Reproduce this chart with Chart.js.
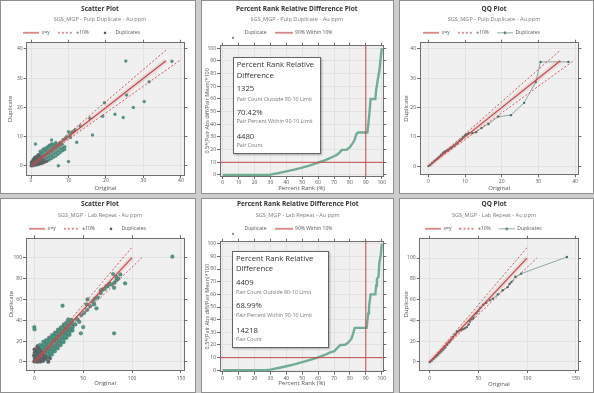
<!DOCTYPE html>
<html>
<head>
<meta charset="utf-8">
<title>Duplicate QAQC plots</title>
<script src="https://cdn.jsdelivr.net/npm/chart.js@4.4.1/dist/chart.umd.min.js"></script>
<style>
html, body { margin: 0; padding: 0; }
body { width: 594px; height: 393px; position: relative; overflow: hidden; background: #cdcdcd; font-family: "Open Sans", sans-serif; }
.panel { position: absolute; box-sizing: border-box; background: #fff; border: 1px solid #8f8f8f; }
.panel canvas { position: absolute; left: 0; top: 0; }
.stats { position: absolute; box-sizing: border-box; background: #fff; border: 1px solid #646464; box-shadow: 1px 1px 2px rgba(0,0,0,0.3); }
.stats div { position: absolute; white-space: nowrap; }
.stats .big { font-size: 7.7px; line-height: 10px; color: #333; }
.stats .small { font-size: 5.3px; line-height: 7px; color: #777; }
</style>
</head>
<body>
<div class="panel" style="left:0;top:0;width:196px;height:194px"><canvas id="c1" width="194" height="192"></canvas></div>
<div class="panel" style="left:201px;top:0;width:193px;height:194px"><canvas id="c2" width="191" height="192"></canvas>
  <div class="stats" style="left:31px;top:56px;width:88px;height:97px">
    <div class="big" style="left:2.7px;top:1.3px">Percent Rank Relative</div>
    <div class="big" style="left:2.7px;top:12px">Difference</div>
    <div class="big" style="left:2.7px;top:25.3px">1325</div>
    <div class="small" style="left:2.7px;top:37.5px">Pair Count Outside 90-10 Limit</div>
    <div class="big" style="left:2.7px;top:49.3px">70.42%</div>
    <div class="small" style="left:2.7px;top:60.2px">Pair Percent Within 90-10 Limit</div>
    <div class="big" style="left:2.7px;top:73px">4480</div>
    <div class="small" style="left:2.7px;top:83.5px">Pair Count</div>
  </div>
</div>
<div class="panel" style="left:399px;top:0;width:195px;height:194px"><canvas id="c3" width="193" height="192"></canvas></div>
<div class="panel" style="left:0;top:198px;width:196px;height:195px"><canvas id="c4" width="194" height="193"></canvas></div>
<div class="panel" style="left:201px;top:198px;width:193px;height:195px"><canvas id="c5" width="191" height="193"></canvas>
  <div class="stats" style="left:30px;top:52px;width:97px;height:97px">
    <div class="big" style="left:3px;top:0.7px">Percent Rank Relative</div>
    <div class="big" style="left:3px;top:10.7px">Difference</div>
    <div class="big" style="left:3px;top:25px">4409</div>
    <div class="small" style="left:3px;top:37.2px">Pair Count Outside 90-10 Limit</div>
    <div class="big" style="left:3px;top:48.3px">68.99%</div>
    <div class="small" style="left:3px;top:59.8px">Pair Percent Within 90-10 Limit</div>
    <div class="big" style="left:3px;top:73.3px">14218</div>
    <div class="small" style="left:3px;top:83.8px">Pair Count</div>
  </div>
</div>
<div class="panel" style="left:399px;top:198px;width:195px;height:195px"><canvas id="c6" width="193" height="193"></canvas></div>

<script>
// ---------- data ----------
const pulpSubtitle = 'SGS_MGP - Pulp Duplicate - Au ppm';
const labSubtitle = 'SGS_MGP - Lab Repeat - Au ppm';

// x=y and +/-10% reference lines (end points)
const pulpEqual = [[0, 0], [36, 36]];
const pulpUpper = [[0, 0], [36, 39.6]];
const pulpLower = [[0, 0], [39.6, 36]];
const labEqual = [[0, 0], [100, 100]];
const labUpper = [[0, 0], [100, 110]];
const labLower = [[0, 0], [110, 100]];

// original / duplicate pairs
const pulpPairs = [
  [0.05,0.05],[0.2,0.4],[0.1,0.9],[0.15,1.4],[0.4,0.1],[0.5,0.7],[0.45,1.25],[0.55,1.8],[0.6,2.3],
  [0.9,0.2],[1.0,0.85],[0.95,1.6],[1.05,2.3],[1.0,3.0],
  [1.4,0.35],[1.55,1.05],[1.5,1.8],[1.45,2.6],[1.6,3.4],
  [2.0,0.5],[2.05,1.3],[1.95,2.2],[2.1,3.1],[2.0,3.9],
  [2.5,0.75],[2.45,1.6],[2.55,2.5],[2.5,3.4],[2.6,4.3],[2.45,5.0],
  [3.0,0.9],[3.05,1.8],[2.95,2.8],[3.1,3.8],[3.0,4.8],[3.15,5.6],
  [3.6,1.25],[3.55,2.2],[3.65,3.2],[3.6,4.2],[3.7,5.2],[3.55,6.0],
  [4.2,1.6],[4.25,2.7],[4.15,3.7],[4.3,4.7],[4.2,5.7],[4.25,6.5],
  [4.8,2.0],[4.85,3.1],[4.75,4.2],[4.9,5.3],[4.8,6.3],[4.85,7.1],
  [5.4,2.5],[5.45,3.6],[5.35,4.7],[5.5,5.8],[5.4,6.8],[5.5,7.6],
  [6.0,3.0],[6.05,4.2],[5.95,5.3],[6.1,6.4],[6.0,7.4],
  [6.6,3.4],[6.65,4.6],[6.55,5.8],[6.7,7.0],[6.6,8.0],
  [7.2,4.0],[7.25,5.2],[7.15,6.4],[7.3,7.5],
  [7.8,4.6],[7.85,5.8],[7.75,7.0],[7.9,8.1],
  [8.4,5.2],[8.45,6.2],[8.35,7.4],
  [9.0,5.6],[9.05,6.6],
  [9.5,10.0],[10.0,11.7],[10.4,10.6],[10.8,11.4],[9.2,9.3],[8.6,9.0],[11.3,11.9],[11.8,12.4],[10.5,9.7],
  [13.1,13.7],[12.2,8.1],[10.0,1.5],[7.3,0.1],[1.2,7.5],[6.2,6.9],[5.5,8.9],
  [16.4,10.6],[15.7,16.3],[19.1,17.0],[19.6,21.6],[22.4,17.7],[24.6,16.6],[27.3,20.0],
  [30.2,22.0],[25.5,24.3],[31.5,28.8],[25.3,35.9],[37.6,35.8]
];

const labPairs = [
  [0,0.5],[0.5,3.2],[-0.3,6.1],[0.4,9.0],[0.2,12.0],
  [3,0.2],[3.2,3.1],[2.8,6.2],[3.1,9.1],[2.9,12.2],[3.2,15.1],
  [6,0.4],[6.2,3.2],[5.8,6.5],[6.1,9.8],[6.0,13.1],[5.9,16.4],
  [9,1.0],[9.2,4.1],[8.8,7.0],[9.1,10.2],[9.0,13.1],[8.9,16.2],[9.2,19.4],
  [12,3.1],[12.2,6.0],[11.8,9.1],[12.1,12.0],[12.0,15.2],[11.9,18.1],[12.2,21.0],
  [15,5.2],[15.2,8.1],[14.8,11.0],[15.1,14.2],[15.0,17.1],[14.9,20.2],[15.2,23.4],
  [18,7.1],[18.2,10.2],[17.8,13.0],[18.1,16.1],[18.0,19.2],[17.9,22.1],[18.2,25.8],
  [21,10.2],[21.2,13.1],[20.8,16.0],[21.1,19.2],[21.0,22.1],[20.9,25.2],[21.2,28.1],
  [24,13.1],[24.2,16.2],[23.8,19.0],[24.1,22.1],[24.0,25.2],[23.9,28.0],[24.2,31.0],
  [27,16.2],[27.2,19.1],[26.8,22.0],[27.1,25.1],[27.0,28.2],[26.9,31.1],[27.2,33.2],
  [30,19.1],[30.2,22.2],[29.8,25.0],[30.1,28.1],[30.0,31.0],[29.9,34.1],[30.2,36.0],
  [33,23.2],[33.2,26.1],[32.8,29.0],[33.1,32.2],[33.0,35.1],[32.9,38.0],
  [36,26.1],[36.2,29.2],[35.8,32.0],[36.1,35.1],[36.0,38.2],
  [39,30.2],[39.2,33.1],[38.8,36.0],[39.1,39.2],
  [1.6,1.8],[4.5,4.6],[7.4,8.1],[10.6,11.4],[13.4,13.6],[16.5,18.7],[19.6,20.7],[22.6,23.6],
  [25.4,26.6],[28.6,29.7],[31.5,30.6],[34.6,33.7],[37.5,34.4],[1.4,7.6],[4.6,10.7],[7.6,14.6],
  [10.5,16.7],[13.6,19.8],[16.4,21.7],[19.5,24.6],[22.4,27.5],[25.6,29.7],[28.4,32.6],[31.6,35.3],
  [7.5,2.4],[10.6,5.5],[13.5,7.6],[16.6,9.7],[19.4,12.6],[22.5,14.8],[25.6,17.6],[28.5,20.7],[31.4,24.6],[34.5,27.7],
  [42,36],[44,40.9],[46,38.5],[38.1,40.3],[34.7,40.9],[48,45],[51,47],[54,50],[57,53.5],[60,57.5],
  [62,60.5],[65,62],[68,66],[70,69.5],[72,70],[75,72.5],[77,75],[82,76],[84,78.5],[86,80],[88,84],
  [80.6,84.3],[84,81.5],[63.6,51.4],[61.2,55.3],[53.4,55.3],[54.4,60],[68,68.7],[73.8,72.8],
  [78.9,74.4],[81.6,71.2],[92.9,75.4],[141.2,101],[81.6,27.5],[47.6,27.5],[50,33.5],[28.9,54],
  [0,33.5],[0.2,31.3],[16,3.5],[14.3,0.3],[43.9,40.9]
];

// percent rank vs relative difference curves
const pulpRank = [
  [0,0],[29,0],[30,0.3],[35,1.5],[40,2.8],[45,4.2],[50,5.8],[55,7.6],[60,9.7],[65,12],[70,14.8],
  [72,16],[74,18.5],[75,19.8],[78,19.9],[80,22],[82,25.5],[83,28],[84,32],[85,33.5],[91,33.5],
  [92,45],[92.5,52],[93,60],[96,60],[96.5,67],[97.5,75],[98.5,82],[99.2,90],[100,100]
];
const labRank = [
  [0,0],[27,0],[30,0.5],[35,1.8],[40,3.2],[45,4.7],[50,6.4],[55,8.2],[60,10.3],[65,12.6],[68,14.4],
  [70,15],[72,17.5],[74,20],[77,20.2],[79,22],[81,25],[82,29],[83,33.5],[90.5,33.5],[91.5,45],
  [92,50],[93,60],[96,60],[96.5,67],[97,72],[98,74],[98.5,85],[99.5,92],[100,100]
];
const rankLimit = 90;      // percent rank limit
const diffLimit = 10;      // relative difference limit

// quantile pairs for the QQ plots
const pulpQuantiles = [
  [0,0],[0.5,0.4],[1,1],[1.5,1.6],[2,2.1],[2.5,2.6],[3,3.2],[3.5,3.9],[4,4.6],[4.5,5.0],[5,5.3],
  [5.5,5.7],[6,6.1],[6.5,6.5],[7,7.0],[7.5,7.5],[8,8.0],[8.5,8.6],[9,9.2],[9.5,9.9],[10,10.5],
  [10.5,10.9],[11,11.2],[12,11.3],[13,11.6],[14.5,13.0],[16.4,14.4],[19.1,16.9],[22.5,17.4],
  [26.1,21.6],[29.3,28.7],[30.6,35.6],[38.2,35.6]
];
const labQuantiles = [
  [0,0],[2,1.5],[4,3.2],[6,4.8],[8,6.5],[10,8.3],[12,10],[14,12],[16,14],[18,16.5],[20,19],
  [22,21.5],[24,24],[26,26.5],[28,29],[30,30],[32,30.8],[34,31.5],[36,32.3],[38,33.5],[40,36],
  [41,39.5],[43,41],[45,42.5],[48,47],[50,49],[52,52],[55,55],[58,57],[62,59.5],[65,61],[70,65],
  [75,69],[80,72],[82,75],[84,77],[88,82],[94,85],[141,101]
];

// ---------- styling ----------
const RED = '#c4494b';
const TEAL = '#4f9886';
const CORE = '#5e6767';
const EDGE = 'rgba(50,72,70,0.4)';
const GREEN = '#72ad93';
const QQ_LINE = '#8ea8a2';
const QQ_DOT = '#3f6f68';

Chart.defaults.font.family = '"Open Sans", sans-serif';
Chart.defaults.color = '#555';

const pts = arr => arr.map(p => ({ x: p[0], y: p[1] }));

function marker(w, h, draw) {
  const c = document.createElement('canvas');
  c.width = w; c.height = h;
  draw(c.getContext('2d'), w, h);
  return c;
}
function lineKey(w, dash) {
  return marker(w, 3, (g) => {
    g.strokeStyle = RED; g.lineWidth = 1.2; g.setLineDash(dash);
    g.beginPath(); g.moveTo(0, 1.5); g.lineTo(w, 1.5); g.stroke();
  });
}
const keySolid = lineKey(16, []);
const keyDash = lineKey(16, [2, 2]);
const keyLimit = lineKey(18, []);
const keyDot = marker(6, 6, (g) => {
  g.fillStyle = '#3e5552'; g.beginPath(); g.arc(3, 3, 1.3, 0, Math.PI * 2); g.fill();
});
const keyLineDot = marker(16, 5, (g) => {
  g.strokeStyle = QQ_LINE; g.lineWidth = 1;
  g.beginPath(); g.moveTo(0, 2.5); g.lineTo(16, 2.5); g.stroke();
  g.fillStyle = QQ_DOT; g.beginPath(); g.arc(8, 2.5, 1.3, 0, Math.PI * 2); g.fill();
});
const keyRank = marker(6, 14, (g) => {
  g.fillStyle = '#555'; g.beginPath(); g.arc(3, 12, 0.9, 0, Math.PI * 2); g.fill();
});

const plotBg = {
  id: 'plotBg',
  beforeDraw(chart) {
    const { ctx, chartArea: a } = chart;
    ctx.save();
    ctx.fillStyle = '#f0f0f0';
    ctx.fillRect(a.left, a.top, a.width, a.height);
    ctx.restore();
  }
};

// slide the title block and the legend to where the report puts them
const headerPlace = {
  id: 'headerPlace',
  afterLayout(chart, args, opts) {
    chart.boxes.forEach(b => {
      if (b === chart.legend) {
        const w = b.right - b.left;
        b.left = opts.keyX - 8;
        b.right = b.left + w;
      } else if (b.position === 'top' && b.fullSize && !b.axis) {
        const dx = opts.titleX - (b.left + b.right) / 2;
        b.left += dx;
        b.right += dx;
      }
    });
  }
};

function keyItems(markers) {
  return chart => chart.data.datasets.map((ds, i) => ({
    text: ds.label,
    pointStyle: markers[i],
    datasetIndex: i,
    hidden: false,
    lineWidth: 0,
    fillStyle: 'rgba(0,0,0,0)',
    strokeStyle: 'rgba(0,0,0,0)',
    fontColor: '#555'
  })).filter(item => item.pointStyle);
}

function options(g, markers) {
  const grid = { color: '#e2e2e2', tickColor: '#6a6a6a', tickLength: 3 };
  const edge = { color: '#6f6f6f', width: 1 };
  const tickFont = { size: 5, lineHeight: 1 };
  return {
    responsive: false,
    animation: false,
    events: [],
    layout: { padding: { left: 0, right: g.R, top: 0, bottom: 0 } },
    plugins: {
      headerPlace: { keyX: g.keyX, titleX: g.titleX },
      title: { display: true, text: g.title, color: '#333', font: { size: 6.5, weight: 'bold' }, padding: { top: g.t1, bottom: 0 } },
      subtitle: { display: true, text: g.subtitle, color: '#7a7a7a', font: { size: 5.6 }, padding: { top: g.t2, bottom: 0 } },
      legend: {
        align: 'start',
        maxHeight: g.legendH,
        labels: {
          usePointStyle: true, pointStyleWidth: g.keyW || 16, padding: 8,
          color: '#555', font: { size: 5 }, generateLabels: keyItems(markers)
        }
      },
      tooltip: { enabled: false }
    },
    scales: {
      x: {
        type: 'linear', position: 'bottom', min: g.x.min, max: g.x.max, grid: grid, border: edge,
        ticks: { stepSize: g.x.step, includeBounds: false, autoSkip: false, maxRotation: 0, padding: g.x.pad, font: tickFont, color: '#555' },
        title: { display: true, text: g.x.title, color: '#555', font: { size: 6 }, padding: { top: 0, bottom: g.x.titleB } },
        afterFit: s => { s.height = g.H - g.plotB; }
      },
      y: {
        type: 'linear', position: 'left', min: g.y.min, max: g.y.max, grid: grid, border: edge,
        ticks: { stepSize: g.y.step, includeBounds: false, autoSkip: false, padding: 1, font: tickFont, color: '#555' },
        title: { display: true, text: g.y.title, color: '#555', font: { size: g.y.size || 6 }, padding: { top: g.y.titlePad, bottom: 0 } },
        afterFit: s => { s.width = g.plotL; }
      },
      x2: {
        type: 'linear', position: 'top', min: g.x.min, max: g.x.max,
        grid: Object.assign({}, grid, { drawOnChartArea: false }), border: edge,
        ticks: { display: false, stepSize: g.x.step, includeBounds: false }
      },
      y2: {
        type: 'linear', position: 'right', min: g.y.min, max: g.y.max,
        grid: Object.assign({}, grid, { drawOnChartArea: false }), border: edge,
        ticks: { display: false, stepSize: g.y.step, includeBounds: false }
      }
    }
  };
}

function refLines(equal, upper, lower) {
  return [
    { label: 'x=y', data: pts(equal), showLine: true, borderColor: RED, borderWidth: 1.2, pointRadius: 0 },
    { label: '±10%', data: pts(upper), showLine: true, borderColor: RED, borderWidth: 0.9, borderDash: [2, 2], pointRadius: 0 },
    { label: '±10% low', data: pts(lower), showLine: true, borderColor: RED, borderWidth: 0.9, borderDash: [2, 2], pointRadius: 0 },
    { label: 'band', data: pts(equal), showLine: true, borderColor: 'rgba(214,120,120,0.16)', borderWidth: 5, pointRadius: 0 }
  ];
}

function scatterPlot(id, g, pairs, lines, coreSum, radius) {
  const sets = lines.concat([{
    label: 'Duplicates', data: pts(pairs), showLine: false, pointRadius: radius, pointBorderWidth: 0.5,
    pointBackgroundColor: c => (c.raw && c.raw.x + c.raw.y < coreSum) ? CORE : TEAL,
    pointBorderColor: EDGE
  }]);
  return new Chart(document.getElementById(id), {
    type: 'scatter', data: { datasets: sets },
    options: options(g, [keySolid, keyDash, null, null, keyDot]), plugins: [plotBg, headerPlace]
  });
}

function rankPlot(id, g, curve) {
  const sets = [
    { label: 'Duplicate', data: pts(curve), showLine: true, borderColor: GREEN, borderWidth: 2.4, pointRadius: 0, order: 2 },
    { label: '90% Within 10%', data: pts([[g.x.min, diffLimit], [g.x.max, diffLimit]]), showLine: true, borderColor: RED, borderWidth: 1, pointRadius: 0, order: 1 },
    { label: 'rank limit', data: pts([[rankLimit, g.y.min], [rankLimit, g.y.max]]), showLine: true, borderColor: RED, borderWidth: 1, pointRadius: 0, order: 1 }
  ];
  return new Chart(document.getElementById(id), {
    type: 'scatter', data: { datasets: sets },
    options: options(g, [keyRank, keyLimit, null]), plugins: [plotBg, headerPlace]
  });
}

function qqPlot(id, g, quantiles, lines) {
  const sets = lines.concat([{
    label: 'Duplicates', data: pts(quantiles), showLine: true, borderColor: QQ_LINE, borderWidth: 1,
    pointRadius: 1.2, pointBorderWidth: 0, pointBackgroundColor: QQ_DOT
  }]);
  return new Chart(document.getElementById(id), {
    type: 'scatter', data: { datasets: sets },
    options: options(g, [keySolid, keyDash, null, null, keyLineDot]), plugins: [plotBg, headerPlace]
  });
}

const rankY = '0.5*[Pair Abs diff/Pair Mean]*100';

scatterPlot('c1', {
  W: 194, H: 192, R: 7.7, plotL: 25.7, plotB: 174, t1: 4.1, t2: 2.74, legendH: 17.34, keyX: 22.3, titleX: 99,
  title: 'Scatter Plot', subtitle: pulpSubtitle,
  x: { min: -1.15, max: 40.9, step: 10, title: 'Original', pad: 0.5, titleB: 1.4 },
  y: { min: -3.1, max: 42.15, step: 10, title: 'Duplicate', titlePad: 5.4 }
}, pulpPairs, refLines(pulpEqual, pulpUpper, pulpLower), 6, 1.5);

rankPlot('c2', {
  W: 191, H: 192, R: 6.7, plotL: 18, plotB: 175, t1: 4.1, t2: 2.74, legendH: 20.34, keyW: 18, keyX: 22, titleX: 94.8,
  title: 'Percent Rank Relative Difference Plot', subtitle: pulpSubtitle,
  x: { min: -1.7, max: 101, step: 10, title: 'Percent Rank (%)', pad: 0.8, titleB: 1.1 },
  y: { min: -0.8, max: 102, step: 10, title: rankY, titlePad: 2.4, size: 5.5 }
}, pulpRank);

qqPlot('c3', {
  W: 193, H: 192, R: 11.7, plotL: 20, plotB: 173.3, t1: 4.1, t2: 2.74, legendH: 17.34, keyX: 23.3, titleX: 94,
  title: 'QQ Plot', subtitle: pulpSubtitle,
  x: { min: -2.3, max: 40.9, step: 10, title: 'Original', pad: 1.9, titleB: 1.1 },
  y: { min: -2.8, max: 42.15, step: 10, title: 'Duplicate', titlePad: 3.1 }
}, pulpQuantiles, refLines(pulpEqual, pulpUpper, pulpLower));

scatterPlot('c4', {
  W: 194, H: 193, R: 7.7, plotL: 25, plotB: 171, t1: 1.4, t2: 3.44, legendH: 16.94, keyX: 28.3, titleX: 99,
  title: 'Scatter Plot', subtitle: labSubtitle,
  x: { min: -8.5, max: 153.4, step: 50, title: 'Original', pad: 3.2, titleB: 4.7 },
  y: { min: -7.7, max: 118.6, step: 20, title: 'Duplicate', titlePad: 7.1 }
}, labPairs, refLines(labEqual, labUpper, labLower), 20, 1.9);

rankPlot('c5', {
  W: 191, H: 193, R: 6.7, plotL: 18, plotB: 172.7, t1: 1.4, t2: 3.44, legendH: 20.34, keyW: 18, keyX: 22, titleX: 95.7,
  title: 'Percent Rank Relative Difference Plot', subtitle: labSubtitle,
  x: { min: -1.7, max: 101, step: 10, title: 'Percent Rank (%)', pad: 1.1, titleB: 4.7 },
  y: { min: -1.1, max: 101.6, step: 10, title: rankY, titlePad: 1.7, size: 5.5 }
}, labRank);

qqPlot('c6', {
  W: 193, H: 193, R: 12, plotL: 19.7, plotB: 171, t1: 1.4, t2: 3.44, legendH: 17.34, keyX: 25, titleX: 94,
  title: 'QQ Plot', subtitle: labSubtitle,
  x: { min: -10.3, max: 152.4, step: 50, title: 'Original', pad: 3.2, titleB: 4.1 },
  y: { min: -7.7, max: 118.6, step: 20, title: 'Duplicate', titlePad: 3.1 }
}, labQuantiles, refLines(labEqual, labUpper, labLower));
</script>
</body>
</html>
